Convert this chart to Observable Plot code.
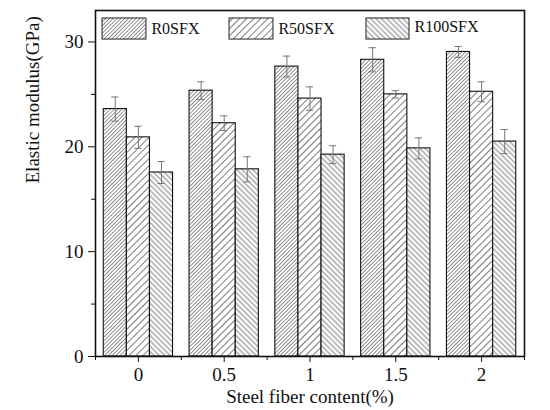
<!DOCTYPE html>
<html>
<head>
<meta charset="utf-8">
<script src="https://cdn.jsdelivr.net/npm/d3@7"></script>
<script src="https://cdn.jsdelivr.net/npm/@observablehq/plot@0.6"></script>
<style>
  html, body { margin: 0; padding: 0; background: #fff; }
  #chart svg { display: block; }
</style>
</head>
<body>
<div id="chart"></div>
<script>
// ---- data ----
const categories = [0, 0.5, 1, 1.5, 2];
const seriesNames = ["R0SFX", "R50SFX", "R100SFX"];
const r0Values   = [23.6, 25.35, 27.65, 28.3, 29.05];
const r0Errors   = [1.15, 0.85, 1.0, 1.15, 0.52];
const r50Values  = [20.9, 22.25, 24.6, 25.0, 25.25];
const r50Errors  = [1.05, 0.7, 1.12, 0.35, 0.95];
const r100Values = [17.55, 17.85, 19.25, 19.85, 20.5];
const r100Errors = [1.05, 1.2, 0.85, 1.0, 1.15];
const yMajorTicks = [0, 10, 20, 30];
const yMinorTicks = [5, 15, 25];
const xMinorTicks = [-0.25, 0.25, 0.75, 1.25, 1.75, 2.25];
const xLabel = "Steel fiber content(%)";
const yLabel = "Elastic modulus(GPa)";

// ---- build table ----
const valuesBySeries = [r0Values, r50Values, r100Values];
const errorsBySeries = [r0Errors, r50Errors, r100Errors];
const barW = 0.1346;
const rows = [];
seriesNames.forEach((s, i) => {
  categories.forEach((c, j) => {
    rows.push({
      series: s, idx: i, cat: c,
      value: valuesBySeries[i][j], err: errorsBySeries[i][j],
      x1: c + (i - 1.5) * barW, x2: c + (i - 0.5) * barW, xc: c + (i - 1) * barW
    });
  });
});
const fills = ["url(#pat0)", "url(#pat1)", "url(#pat2)"];

// legend layout (in data units inside the frame)
const legend = seriesNames.map((s, i) => ({
  name: s, fill: fills[i],
  x1: [-0.209, 0.531, 1.329][i], x2: [0.047, 0.787, 1.580][i],
  tx: [0.076, 0.816, 1.609][i], ty: [31.23, 31.2, 31.42][i]
}));

const font = "'Liberation Serif', 'Times New Roman', serif";
const capHalf = 0.021;

const marks = [];
seriesNames.forEach((s, i) => {
  marks.push(Plot.rect(rows.filter(d => d.idx === i), {
    x1: "x1", x2: "x2", y1: 0, y2: "value",
    fill: fills[i], stroke: "#111", strokeWidth: 1.1
  }));
});
marks.push(
  Plot.ruleX(rows, {x: "xc", y1: d => d.value - d.err, y2: d => d.value + d.err, stroke: "#777", strokeWidth: 1}),
  Plot.ruleY(rows, {y: d => d.value + d.err, x1: d => d.xc - capHalf, x2: d => d.xc + capHalf, stroke: "#777", strokeWidth: 1}),
  Plot.ruleY(rows, {y: d => d.value - d.err, x1: d => d.xc - capHalf, x2: d => d.xc + capHalf, stroke: "#777", strokeWidth: 1}),
  // legend
  Plot.rect(legend, {x1: "x1", x2: "x2", y1: 30.23, y2: 32.24, fill: "fill", stroke: "#222", strokeWidth: 1}),
  Plot.text(legend, {x: "tx", y: "ty", text: "name", textAnchor: "start", fontSize: 16, fill: "#111"}),
  Plot.axisY({ticks: yMajorTicks, tickSize: 7, tickPadding: 5, fontSize: 19, label: null}),
  Plot.axisY({ticks: yMinorTicks, tickSize: 4, tickFormat: () => "", label: null}),
  Plot.axisX({ticks: categories, tickSize: 6, tickPadding: 5, fontSize: 19, tickFormat: d => String(d), label: null}),
  Plot.axisX({ticks: xMinorTicks, tickSize: 4, tickFormat: () => "", label: null}),
  Plot.text([xLabel], {frameAnchor: "bottom", text: d => d, dy: 46, lineAnchor: "bottom", fontSize: 19, fill: "#111"}),
  Plot.text([yLabel], {frameAnchor: "left", text: d => d, rotate: -90, dx: -70, lineAnchor: "top", fontSize: 19, fill: "#111"}),
  Plot.frame({stroke: "#111", strokeWidth: 1.6})
);

const chart = Plot.plot({
  width: 550, height: 410,
  marginLeft: 95, marginRight: 26, marginTop: 10, marginBottom: 54,
  style: {fontFamily: font, color: "#111", background: "#fff"},
  x: {type: "linear", domain: [-0.25, 2.25]},
  y: {domain: [0, 33]},
  marks
});

// hatch patterns
const svg = d3.select(chart);
const defs = svg.insert("defs", ":first-child");
const pats = [
  {id: "pat0", size: 2.7, rot: -45, w: 0.6},
  {id: "pat1", size: 5.0, rot: -45, w: 0.7},
  {id: "pat2", size: 3.8, rot: 45, w: 0.7}
];
pats.forEach(p => {
  const pat = defs.append("pattern")
    .attr("id", p.id).attr("patternUnits", "userSpaceOnUse")
    .attr("width", p.size).attr("height", p.size)
    .attr("patternTransform", `rotate(${p.rot})`);
  pat.append("rect").attr("width", p.size).attr("height", p.size).attr("fill", "#fff");
  pat.append("line").attr("x1", 0).attr("x2", p.size)
    .attr("y1", p.size / 2).attr("y2", p.size / 2)
    .attr("stroke", "#444").attr("stroke-width", p.w);
});

document.getElementById("chart").appendChild(chart);
</script>
</body>
</html>
